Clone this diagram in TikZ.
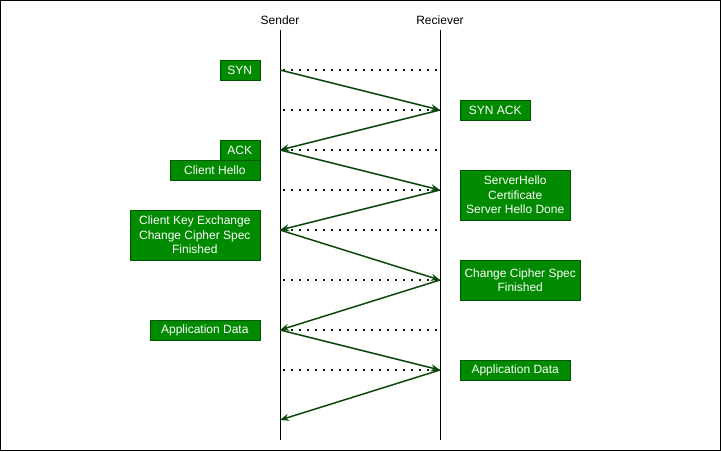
\documentclass[tikz,border=0pt]{standalone}
\usepackage{fontspec}
\setmainfont{Liberation Sans}
\usetikzlibrary{positioning, arrows.meta}
\definecolor{boxfill}{HTML}{008A00}
\definecolor{boxline}{HTML}{005700}
\definecolor{flowline}{HTML}{0B470B}
\definecolor{dotline}{HTML}{082608}

\begin{document}
\begin{tikzpicture}[x=1pt, y=-1pt, node distance=20pt,
  every node/.style={font=\fontsize{12}{14.4}\selectfont},
  msg/.style={draw=boxline, fill=boxfill, text=white, inner sep=0pt,
    minimum height=20pt, align=center},
  flow/.style={draw=flowline, line width=1.5pt, -{Stealth[length=9pt, width=7pt]}},
  tick/.style={draw=dotline, line width=2.5pt, dash pattern=on 2pt off 6pt}]
\useasboundingbox (0,0) rectangle (721,451);
\draw[line width=1.2pt] (0.6,0.6) rectangle (720.4,450.4);

% lifelines
\node (sender) at (280,20) {Sender};
\node (reciever) at (440,20) {Reciever};
\coordinate (stop) at (280,30);
\coordinate (sbot) at (280,440);
\coordinate (rtop) at (440,30);
\coordinate (rbot) at (440,440);
\draw (stop) -- (sbot);
\draw (rtop) -- (rbot);

% event points
\foreach \n/\y in {1/70, 2/150, 3/230, 4/330, 5/420}
  \coordinate (s\n) at (280,\y);
\foreach \n/\y in {1/110, 2/190, 3/280, 4/370}
  \coordinate (r\n) at (440,\y);

\foreach \y in {70, 110, 150, 190, 230, 280, 330, 370}
  \draw[tick] (283,\y) -- (437,\y);

% messages
\node[msg, minimum width=40pt, left=of s1] (syn) {SYN};
\node[msg, minimum width=70pt, right=of r1] (synack) {SYN ACK};
\node[msg, minimum width=40pt, left=of s2] (ack) {ACK};
\node[msg, minimum width=90pt, anchor=north east] (chello) at (ack.south east) {Client Hello};
\node[msg, minimum width=110pt, minimum height=50pt, right=of r2, yshift=-5pt] (shello)
  {ServerHello\\Certificate\\Server Hello Done};
\node[msg, minimum width=130pt, minimum height=50pt, left=of s3, yshift=-5pt] (keyex)
  {Client Key Exchange\\Change Cipher Spec\\Finished};
\node[msg, minimum width=120pt, minimum height=40pt, right=of r3] (ccs)
  {Change Cipher Spec\\Finished};
\node[msg, minimum width=110pt, left=of s4] (appleft) {Application Data};
\node[msg, minimum width=110pt, right=of r4] (appright) {Application Data};

\draw[flow] (s1) -- (r1);
\draw[flow] (r1) -- (s2);
\draw[flow] (s2) -- (r2);
\draw[flow] (r2) -- (s3);
\draw[flow] (s3) -- (r3);
\draw[flow] (r3) -- (s4);
\draw[flow] (s4) -- (r4);
\draw[flow] (r4) -- (s5);
\end{tikzpicture}
\end{document}
